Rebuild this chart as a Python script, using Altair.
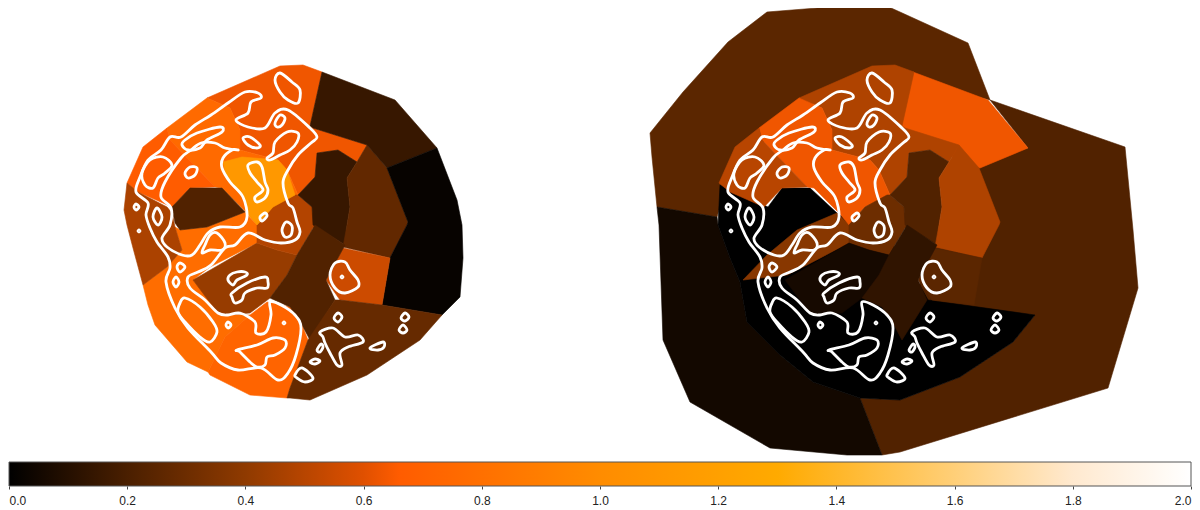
import altair as alt
import pandas as pd

# colour scale (value -> colour)
STOP_VALUES = [0.0, 0.2, 0.4, 0.6, 0.66, 1.0, 1.3, 1.6, 1.8, 2.0]
STOP_COLORS = ["#000000", "#4a1f00", "#8f3a00", "#e05000", "#ff5c00", "#ff8c00",
               "#ffaa00", "#ffcf78", "#ffe9cf", "#ffffff"]
TICKS = [0.0, 0.2, 0.4, 0.6, 0.8, 1.0, 1.2, 1.4, 1.6, 1.8, 2.0]

# cell outlines, left-hand map (reference pixel coordinates)
CELL_TOP = [(207,98),(280,66),(303,65),(322,72),(310,126),(313,128),(367,145),(357,162),(338,150),(317,153),(315,177),(298,195),(287,170),(278,160),(240,150),(240,130),(230,108)]
CELL_BAND = [(167,128),(207,98),(230,108),(240,130),(240,150),(278,160),(287,170),(298,195),(273,207),(257,225),(247,213),(222,188),(215,187),(170,140)]
CELL_WEST = [(127,183),(143,147),(167,128),(170,140),(215,187),(190,188),(172,207),(138,192)]
CELL_LOWER = [(143,285),(148,305),(155,325),(187,362),(208,372),(225,337),(250,315),(222,315),(193,280),(210,267),(257,243),(257,225),(245,212),(207,227),(180,230),(175,227),(182,250),(167,267)]
CELL_BOTTOM = [(208,372),(225,337),(250,315),(267,302),(290,307),(302,325),(308,340),(290,388),(287,398),(250,395),(210,375)]
CELL_CENTER = [(193,280),(257,243),(277,250),(297,255),(287,275),(270,298),(250,313),(225,315),(217,312)]
CELL_NECK = [(257,225),(273,207),(295,195),(298,195),(312,207),(315,227),(313,228),(297,255),(277,250),(257,243)]
CELL_DARK = [(317,153),(338,150),(357,162),(347,178),(350,207),(347,225),(345,245),(313,225),(312,207),(298,195),(315,177)]
CELL_RING = [(367,145),(357,162),(347,178),(350,207),(347,225),(343,247),(390,258),(407,225),(408,222),(387,168)]
CELL_ARC = [(322,72),(395,100),(437,148),(387,168),(367,145),(313,128),(310,126)]
CELL_EAST = [(437,148),(457,200),(462,225),(463,258),(460,297),(442,315),(382,305),(390,258),(407,225),(408,222),(387,168)]
CELL_KNOT = [(343,248),(390,258),(382,305),(340,300),(326,280)]
CELL_MID = [(315,225),(345,245),(326,280),(335,300),(310,340),(302,325),(290,307),(270,298),(287,275),(297,255)]
CELL_SOUTH = [(335,300),(340,300),(382,305),(442,315),(420,340),(367,375),(310,400),(290,398),(287,398),(290,388),(308,340)]
CELL_SIDE = [(127,183),(138,192),(167,207),(172,213),(175,227),(182,250),(167,267),(143,285),(133,248),(127,225),(124,210)]
CELL_HOLE = [(172,207),(190,188),(222,188),(245,212),(207,227),(180,230),(175,223)]
CELL_CORE = [(223,162),(242,157),(278,160),(287,170),(295,195),(273,207),(257,225),(247,213),(243,197),(227,180)]

# cells of the right-hand map only
OUT_EAST = [(990,100),(1125,147),(1133,230),(1138,288),(1108,388),(900,452),(882,455),(860,398),(900,400),(960,377),(1013,342),(1035,315),(920,310),(920,260),(960,222),(950,170),(1028,148)]
OUT_NORTH = [(650,133),(683,92),(728,42),(767,12),(880,3),(900,12),(968,43),(990,100),(910,80),(895,75),(872,76),(803,108),(762,143),(745,150),(735,162),(725,188),(717,217),(657,207),(652,157)]
OUT_SOUTH = [(657,207),(717,217),(718,225),(730,258),(740,282),(747,322),(780,355),(813,382),(860,398),(882,455),(847,455),(770,448),(690,402),(663,340),(659,225)]
OUT_BLACK = [(720,185),(768,207),(782,188),(810,188),(837,213),(900,250),(928,300),(1035,315),(1013,342),(960,377),(900,400),(860,398),(813,382),(780,355),(747,322),(740,282),(730,258),(718,225)]
OUT_PATCH = [(913,72),(988,100),(1028,148),(980,168),(965,165),(950,155),(900,130)]
OUT_WEDGE = [(743,280),(787,275),(807,265),(849,243),(849,225),(837,213),(797,230),(767,255)]

LEFT_CELLS = [("top",CELL_TOP,0.63),("band",CELL_BAND,0.76),("west",CELL_WEST,0.66),("lower",CELL_LOWER,0.78),
              ("bottom",CELL_BOTTOM,0.72),("center",CELL_CENTER,0.42),("neck",CELL_NECK,0.49),("dark",CELL_DARK,0.15),
              ("ring",CELL_RING,0.27),("arc",CELL_ARC,0.15),("east",CELL_EAST,0.02),("knot",CELL_KNOT,0.55),
              ("mid",CELL_MID,0.22),("south",CELL_SOUTH,0.28),("side",CELL_SIDE,0.47),("hole",CELL_HOLE,0.22),("core",CELL_CORE,1.12)]
RIGHT_SHIFTED = [("top",CELL_TOP,0.48),("band",CELL_BAND,0.63),("west",CELL_WEST,0.5),
                 ("neck",CELL_NECK,0.3),("center",CELL_CENTER,0.06),("dark",CELL_DARK,0.22),("ring",CELL_RING,0.48),
                 ("knot",CELL_KNOT,0.25),("mid",CELL_MID,0.13)]
RIGHT_OWN = [("oe",OUT_EAST,0.22),("on",OUT_NORTH,0.25),("os",OUT_SOUTH,0.05),("ob",OUT_BLACK,0.0),
             ("op",OUT_PATCH,0.63),("ow",OUT_WEDGE,0.38)]

# contour lines (drawn on both maps)
PANEL_SHIFT = 592
CONTOURS = [
 [(136,192),(140,177),(148,160),(161,150),(170,137),(181,137),(195,125),(211,115),(228,103),(245,92),(258,93),(261,98),(251,102),(248,113),(236,120),(248,127),(265,128),(275,113),(288,110),(310,128),(317,137),(311,143),(298,155),(288,170),(283,183),(288,203),(293,208),(297,222),(300,232),(295,240),(281,243),(265,240),(248,233),(235,245),(225,248),(211,265),(198,272),(188,277),(190,288),(205,300),(218,313),(228,315),(240,313),(255,322),(256,333),(266,332),(271,315),(270,302),(281,305),(295,315),(301,328),(296,355),(288,373),(278,380),(261,368),(238,370),(221,363),(211,352),(188,328),(175,308),(166,282),(170,268),(168,257),(157,242),(150,228),(146,215),(148,203)],
 [(238,150),(225,148),(215,143),(201,143),(191,150),(181,158),(165,182),(161,197),(171,208),(170,225),(162,238),(167,247),(182,255),(192,255),(200,245),(208,233),(220,227),(240,227),(247,217),(243,197),(230,182),(222,168),(223,158),(232,150)],
 [(150,160),(163,157),(172,165),(165,173),(158,178),(153,188),(145,185),(142,173)],
 [(185,173),(190,167),(197,168),(195,175),(188,178)],
 [(185,140),(197,133),(220,127),(222,132),(207,140),(200,148),(188,150),(182,145)],
 [(243,138),(250,137),(260,145),(257,148),(248,145)],
 [(275,123),(280,115),(285,118),(282,125),(277,127)],
 [(275,80),(280,73),(292,82),(300,90),(298,103),(288,100),(280,92)],
 [(267,158),(273,153),(275,142),(287,132),(298,133),(297,142),(290,150),(280,155),(270,160)],
 [(248,165),(257,162),(262,167),(265,182),(268,190),(265,198),(257,202),(255,197),(263,190),(257,182),(250,173)],
 [(260,217),(265,213),(267,216),(262,221)],
 [(282,230),(286,222),(292,226),(291,235),(285,237)],
 [(134,207),(136,204),(139,207),(136,210)],
 [(153,217),(157,208),(162,217),(158,225)],
 [(138,231),(139,230),(140,231),(139,232)],
 [(177,267),(180,263),(185,267),(180,272)],
 [(173,282),(176,277),(179,282),(176,287)],
 [(180,303),(185,298),(200,307),(213,322),(217,332),(210,342),(200,337),(185,322),(178,312)],
 [(226,325),(228,322),(231,325),(228,328)],
 [(283,323),(284,322),(285,323),(284,324)],
 [(237,350),(257,345),(273,338),(285,340),(285,348),(275,355),(267,357),(265,365),(257,367),(250,362),(240,352)],
 [(230,275),(237,272),(245,272),(247,275),(237,280),(233,285),(228,280)],
 [(232,293),(247,283),(265,277),(268,282),(267,288),(257,288),(245,293),(242,300),(235,303),(232,297)],
 [(205,245),(210,235),(217,233),(225,243),(222,250),(210,250),(202,253)],
 [(295,375),(302,368),(313,378),(305,382),(297,378)],
 [(310,362),(315,359),(320,361),(315,364)],
 [(317,350),(321,344),(323,347),(320,352)],
 [(320,332),(333,328),(345,337),(358,335),(363,342),(348,347),(340,353),(342,365),(337,365),(330,353),(325,343),(323,337)],
 [(334,318),(338,313),(342,317),(338,322)],
 [(370,348),(383,342),(384,347),(378,350)],
 [(401,318),(405,313),(409,317),(405,321)],
 [(399,330),(403,325),(407,330),(403,333)],
 [(330,275),(335,263),(345,262),(350,270),(358,280),(358,287),(345,293),(335,288)],
 [(341,277),(342,276),(343,277),(342,278)],
]

rows = []
seq = 0
for cells, shift in ((LEFT_CELLS, 0), (RIGHT_OWN, 0), (RIGHT_SHIFTED, PANEL_SHIFT)):
    for name, pts, val in cells:
        seq += 1
        for i, (x, y) in enumerate(pts):
            rows.append({"cell": seq, "i": i, "x": x + shift, "y": y, "v": val})
cell_df = pd.DataFrame(rows)

rows = []
for shift in (0, PANEL_SHIFT):
    for k, pts in enumerate(CONTOURS):
        for i, (x, y) in enumerate(pts):
            rows.append({"line": f"{shift}-{k}", "i": i, "x": x + shift, "y": y})
line_df = pd.DataFrame(rows)

X = alt.X("x:Q", scale=alt.Scale(domain=[8, 1192], nice=False, zero=False), axis=None)
Y = alt.Y("y:Q", scale=alt.Scale(domain=[486, 8], nice=False, zero=False), axis=None)
val_scale = alt.Scale(domain=STOP_VALUES, range=STOP_COLORS, interpolate="rgb")

cells = alt.Chart(cell_df).mark_line(strokeWidth=0.6, interpolate="linear-closed").encode(
    x=X, y=Y,
    detail="cell:N",
    order=alt.Order("i:Q"),
    fill=alt.Fill("v:Q", scale=val_scale, legend=None),
    stroke=alt.Stroke("v:Q", scale=val_scale, legend=None),
)

lines = alt.Chart(line_df).mark_line(
    color="white", strokeWidth=2.8, interpolate="cardinal-closed", tension=0
).encode(x=X, y=Y, detail="line:N", order=alt.Order("i:Q"))

bar_df = pd.DataFrame({"lo": [STOP_VALUES[0]], "hi": [STOP_VALUES[-1]]})
span = STOP_VALUES[-1] - STOP_VALUES[0]
gradient = alt.Gradient(
    gradient="linear", x1=0, x2=1, y1=0, y2=0,
    stops=[alt.GradientStop(offset=(v - STOP_VALUES[0]) / span, color=c) for v, c in zip(STOP_VALUES, STOP_COLORS)],
)
bar = alt.Chart(bar_df).mark_rect(fill=gradient, stroke="#555555", strokeWidth=1).encode(
    x=alt.X("lo:Q", scale=alt.Scale(domain=[0, 2], range=[1, 1183], nice=False, zero=False),
            axis=alt.Axis(values=TICKS, format=".1f", title=None, grid=False, domain=False,
                          tickSize=3, tickColor="#444444", labelFont="Liberation Sans",
                          labelFontSize=12, labelColor="#222222", labelPadding=6,
                          labelOverlap=False, labelFlush=True, labelBound=False)),
    x2="hi:Q",
    y=alt.value(454),
    y2=alt.value(478),
)

chart = alt.layer(cells, lines, bar).resolve_scale(x="independent", y="independent", fill="independent", stroke="independent").properties(
    width=1184, height=478,
    padding={"left": 0, "right": 0, "top": 0, "bottom": 24},
    autosize=alt.AutoSizeParams(type="none"),
    background="white",
).configure_view(stroke=None)

chart.save("out.html", embed_options={"renderer": "svg", "actions": False})
